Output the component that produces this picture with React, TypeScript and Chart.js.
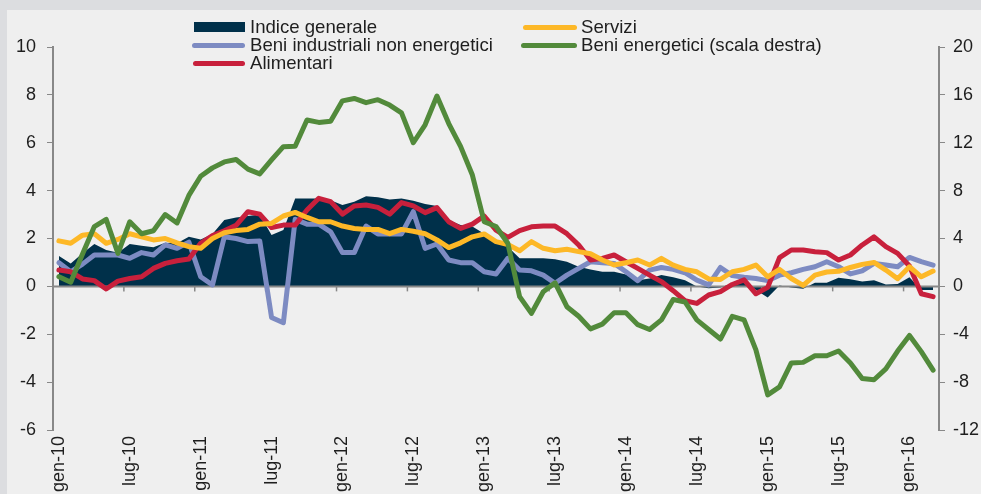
import React, { useEffect, useRef } from 'react';
import { Chart, registerables } from 'chart.js';

Chart.register(...registerables);

const MONTHS = ['gen', 'feb', 'mar', 'apr', 'mag', 'giu', 'lug', 'ago', 'set', 'ott', 'nov', 'dic'];
const YEARS = ['10', '11', '12', '13', '14', '15', '16'];
const categories: string[] = [];
YEARS.forEach((y) => MONTHS.forEach((m) => categories.push(`${m}-${y}`)));
categories.length = 75; // gen-10 .. mar-16

const leftTicks = [-6, -4, -2, 0, 2, 4, 6, 8, 10];
const rightTicks = [-12, -8, -4, 0, 4, 8, 12, 16, 20];

const indiceGenerale = [
  1.27, 0.96, 1.38, 1.77, 1.52, 1.4, 1.77, 1.7, 1.63, 1.82, 1.8, 2.07,
  1.96, 2.19, 2.77, 2.88, 2.94, 3.0, 2.15, 2.35, 3.67, 3.67, 3.67, 3.6,
  3.4, 3.54, 3.77, 3.72, 3.63, 3.67, 3.58, 3.44, 3.36, 2.77, 2.56, 2.5,
  2.2, 1.94, 1.66, 1.17, 1.17, 1.17, 1.13, 1.03, 0.82, 0.71, 0.61, 0.61,
  0.5, 0.26, 0.33, 0.47, 0.38, 0.26, 0.0, -0.08, -0.05, 0.13, 0.26, -0.15,
  -0.46, 0.04, -0.05, -0.1, 0.15, 0.15, 0.36, 0.3, 0.2, 0.26, 0.08, 0.1,
  0.38, -0.15, -0.15,
];

const servizi = [
  1.9, 1.8, 2.14, 2.2, 1.8, 1.96, 2.2, 2.07, 1.94, 2.0, 1.82, 1.66,
  1.59, 2.0, 2.24, 2.33, 2.38, 2.6, 2.63, 2.94, 3.09, 2.88, 2.7, 2.7,
  2.52, 2.42, 2.38, 2.38, 2.2, 2.38, 2.3, 2.2, 1.94, 1.62, 1.82, 2.07,
  2.19, 1.87, 1.75, 1.49, 1.87, 1.59, 1.49, 1.55, 1.45, 1.36, 1.1, 0.89,
  0.99, 1.1, 0.89, 1.17, 0.89, 0.71, 0.61, 0.31, 0.29, 0.61, 0.71, 0.89,
  0.4, 0.71, 0.33, 0.04, 0.47, 0.6, 0.63, 0.79, 0.92, 1.0, 0.68, 0.32,
  0.82, 0.4, 0.64,
];

const beniIndustriali = [
  0.99, 0.61, 0.93, 1.31, 1.31, 1.31, 1.17, 1.41, 1.31, 1.73, 1.59, 1.85,
  0.4, 0.06, 2.07, 2.0, 1.87, 1.9, -1.3, -1.52, 2.8, 2.6, 2.6, 2.28,
  1.41, 1.41, 2.52, 2.19, 2.19, 2.19, 3.12, 1.59, 1.77, 1.1, 0.99, 0.99,
  0.61, 0.52, 1.17, 0.68, 0.65, 0.47, 0.13, 0.47, 0.75, 1.03, 0.99, 0.96,
  0.61, 0.24, 0.68, 0.79, 0.71, 0.57, 0.26, 0.06, 0.79, 0.45, 0.38, 0.33,
  0.24, 0.47, 0.57, 0.71, 0.82, 1.03, 0.82, 0.52, 0.65, 0.96, 0.89, 0.82,
  1.21, 1.03, 0.89,
];

const alimentari = [
  0.68, 0.61, 0.31, 0.24, -0.11, 0.22, 0.33, 0.4, 0.75, 0.96, 1.07, 1.14,
  1.8, 2.12, 2.32, 2.55, 3.12, 3.02, 2.46, 2.56, 2.56, 3.19, 3.68, 3.54,
  3.02, 3.36, 3.4, 3.3, 3.02, 3.5, 3.36, 3.08, 3.29, 2.7, 2.42, 2.6,
  2.94, 2.35, 2.05, 2.33, 2.49, 2.52, 2.52, 2.2, 1.73, 1.1, 1.17, 1.31,
  1.03, 0.75, 0.47, 0.2, -0.18, -0.6, -0.71, -0.36, -0.22, 0.08, 0.27, -0.31,
  -0.04, 1.2, 1.52, 1.52, 1.45, 1.41, 1.1, 1.31, 1.73, 2.07, 1.66, 1.38,
  0.85, -0.31, -0.43,
];

const beniEnergetici = [
  0.81, 0.35, 2.7, 5.0, 5.6, 2.75, 5.4, 4.4, 4.65, 6.0, 5.3, 7.6,
  9.2, 9.9, 10.4, 10.6, 9.8, 9.4, 10.56, 11.67, 11.7, 13.9, 13.7, 13.8,
  15.5, 15.7, 15.35, 15.6, 15.15, 14.5, 12.0, 13.5, 15.9, 13.6, 11.7, 9.3,
  5.4, 5.0, 3.6, -0.86, -2.26, -0.45, 0.3, -1.7, -2.5, -3.55, -3.15, -2.2,
  -2.2, -3.2, -3.6, -2.8, -1.1, -1.3, -2.8, -3.6, -4.4, -2.5, -2.8, -5.3,
  -9.07, -8.4, -6.4, -6.35, -5.8, -5.8, -5.4, -6.4, -7.7, -7.8, -6.9, -5.4,
  -4.1, -5.45, -7.0,
];

const NAVY = '#00304a';
const BLUE = '#7d8bc2';
const RED = '#c8203c';
const YELLOW = '#fdb827';
const GREEN = '#528a3b';
const AXIS = '#888888';
const TEXT = '#1e1e1e';
const FONT = '"Liberation Sans", Arial, sans-serif';

const zeroAxisPlugin = {
  id: 'zeroAxis',
  afterDatasetDraw(chart: any, args: any) {
    if (args.index !== 0) return;
    const { ctx, chartArea, scales } = chart;
    const y0 = scales.y.getPixelForValue(0);
    ctx.save();
    ctx.strokeStyle = AXIS;
    ctx.lineWidth = 2;
    ctx.beginPath();
    ctx.moveTo(chartArea.left, y0);
    ctx.lineTo(chartArea.right, y0);
    ctx.stroke();
    ctx.lineWidth = 1.5;
    for (let i = 6; i < categories.length; i += 6) {
      const xb = (scales.x.getPixelForValue(i - 1) + scales.x.getPixelForValue(i)) / 2;
      ctx.beginPath();
      ctx.moveTo(xb, y0);
      ctx.lineTo(xb, y0 + 5);
      ctx.stroke();
    }
    ctx.restore();
  },
};

const legendItems = [
  { label: 'Indice generale', color: NAVY, rect: true, sx: 194, sw: 51, tx: 250, cy: 27 },
  { label: 'Servizi', color: YELLOW, rect: false, sx: 523, sw: 54, tx: 581, cy: 27 },
  { label: 'Beni industriali non energetici', color: BLUE, rect: false, sx: 192, sw: 53, tx: 250, cy: 45 },
  { label: 'Beni energetici (scala destra)', color: GREEN, rect: false, sx: 521, sw: 56, tx: 581, cy: 45 },
  { label: 'Alimentari', color: RED, rect: false, sx: 193, sw: 52, tx: 250, cy: 63 },
];

export default function App() {
  const canvasRef = useRef<HTMLCanvasElement | null>(null);

  useEffect(() => {
    if (!canvasRef.current) return;
    const lineDs = (label: string, data: number[], color: string, order: number, axis = 'y') => ({
      label,
      data,
      borderColor: color,
      backgroundColor: color,
      borderWidth: 5,
      pointRadius: 0,
      tension: 0,
      fill: false,
      borderJoinStyle: 'round' as const,
      borderCapStyle: 'round' as const,
      yAxisID: axis,
      order,
    });
    const chart = new Chart(canvasRef.current, {
      type: 'line',
      data: {
        labels: categories,
        datasets: [
          {
            label: 'Indice generale',
            data: indiceGenerale,
            borderColor: NAVY,
            backgroundColor: NAVY,
            borderWidth: 0,
            pointRadius: 0,
            tension: 0,
            fill: 'origin',
            yAxisID: 'y',
            order: 10,
          },
          lineDs('Beni industriali non energetici', beniIndustriali, BLUE, 4),
          lineDs('Alimentari', alimentari, RED, 3),
          lineDs('Servizi', servizi, YELLOW, 2),
          lineDs('Beni energetici (scala destra)', beniEnergetici, GREEN, 1, 'y1'),
        ],
      },
      options: {
        responsive: false,
        animation: false,
        devicePixelRatio: 1,
        layout: { padding: { top: 47, left: 0, right: 0, bottom: 0 } },
        plugins: { legend: { display: false }, tooltip: { enabled: false } },
        scales: {
          x: {
            type: 'category',
            offset: true,
            grid: { display: false, drawTicks: false },
            border: { display: false },
            ticks: {
              autoSkip: false,
              minRotation: 90,
              maxRotation: 90,
              padding: 6,
              color: TEXT,
              font: { family: FONT, size: 18 },
              callback: function (this: any, value: any, index: number) {
                return index % 6 === 0 ? this.getLabelForValue(value) : null;
              },
            },
            afterFit: (s: any) => {
              s.height = 64;
            },
          },
          y: {
            position: 'left',
            min: leftTicks[0],
            max: leftTicks[leftTicks.length - 1],
            grid: { drawOnChartArea: false, drawTicks: true, tickLength: 6, color: AXIS, lineWidth: 1 },
            border: { display: true, color: AXIS, width: 2 },
            ticks: {
              stepSize: 2,
              padding: 11,
              color: TEXT,
              font: { family: FONT, size: 18 },
            },
            afterFit: (s: any) => {
              s.width = 53;
            },
          },
          y1: {
            position: 'right',
            min: rightTicks[0],
            max: rightTicks[rightTicks.length - 1],
            grid: { drawOnChartArea: false, drawTicks: true, tickLength: 6, color: AXIS, lineWidth: 1 },
            border: { display: true, color: AXIS, width: 2 },
            ticks: {
              stepSize: 4,
              padding: 8,
              color: TEXT,
              font: { family: FONT, size: 18 },
            },
            afterFit: (s: any) => {
              s.width = 42;
            },
          },
        },
      },
      plugins: [zeroAxisPlugin],
    });
    return () => chart.destroy();
  }, []);

  return (
    <div style={{ position: 'fixed', left: 0, top: 0, width: 981, height: 494, background: '#dcdde0', overflow: 'hidden' }}>
      <div style={{ position: 'absolute', left: 7, top: 10, right: 0, bottom: 0, background: '#efefef' }} />
      <canvas ref={canvasRef} width={981} height={494} style={{ position: 'absolute', left: 0, top: 0, width: 981, height: 494 }} />
      {legendItems.map((it) => (
        <React.Fragment key={it.label}>
          <div
            style={{
              position: 'absolute',
              left: it.sx,
              top: it.rect ? it.cy - 5 : it.cy - 2.5,
              width: it.sw,
              height: it.rect ? 10 : 5,
              background: it.color,
              borderRadius: it.rect ? 0 : 3,
            }}
          />
          <div
            style={{
              position: 'absolute',
              left: it.tx,
              top: it.cy - 10,
              height: 20,
              lineHeight: '20px',
              fontFamily: FONT,
              fontSize: 18.6,
              color: TEXT,
              whiteSpace: 'nowrap',
            }}
          >
            {it.label}
          </div>
        </React.Fragment>
      ))}
    </div>
  );
}
